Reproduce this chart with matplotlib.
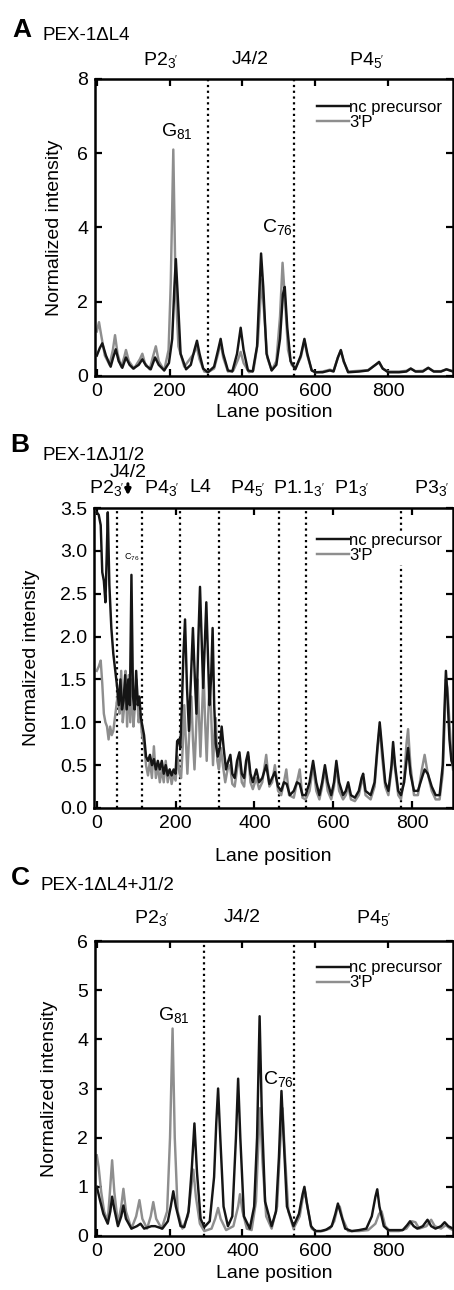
import matplotlib
matplotlib.use("Agg")
import matplotlib.pyplot as plt

plt.rcParams["font.family"] = ["Liberation Sans", "DejaVu Sans"]
plt.rcParams["mathtext.fontset"] = "custom"
plt.rcParams["mathtext.rm"] = "Liberation Sans"
plt.rcParams["mathtext.it"] = "Liberation Sans"

# ---- panel A: PEX-1dL4 ----
a_nc_x = [0, 8, 15, 25, 38, 45, 52, 60, 70, 80, 90, 100, 115, 125, 135, 148, 160, 170, 185, 198,
          207, 213, 217, 222, 230, 245, 258, 268, 275, 282, 292, 305, 322, 333, 340, 347, 360, 372,
          385, 395, 403, 415, 428, 440, 446, 451, 457, 466, 480, 493, 503, 511, 516, 523, 532, 545,
          560, 570, 578, 590, 600, 620, 640, 650, 662, 670, 678, 690, 720, 745, 765, 775, 785, 800,
          830, 850, 862, 875, 895, 910, 925, 945, 960, 978]
a_nc_y = [0.55, 0.75, 0.88, 0.55, 0.25, 0.5, 0.72, 0.4, 0.22, 0.5, 0.3, 0.2, 0.3, 0.45, 0.28, 0.18,
          0.5, 0.3, 0.15, 0.35, 1.0, 2.4, 3.15, 2.2, 0.6, 0.18, 0.3, 0.7, 0.95, 0.6, 0.2, 0.1, 0.25,
          0.7, 1.0, 0.6, 0.15, 0.12, 0.6, 1.3, 0.7, 0.15, 0.12, 0.8, 2.2, 3.3, 2.4, 0.6, 0.15, 0.3,
          1.0, 2.2, 2.4, 1.3, 0.4, 0.18, 0.55, 1.0, 0.6, 0.15, 0.1, 0.1, 0.15, 0.12, 0.5, 0.7, 0.4,
          0.1, 0.12, 0.15, 0.3, 0.38, 0.2, 0.1, 0.1, 0.12, 0.2, 0.12, 0.12, 0.22, 0.12, 0.12, 0.18, 0.12]
a_3p_x = [0, 6, 12, 22, 35, 44, 50, 57, 67, 75, 80, 88, 102, 118, 125, 132, 145, 155, 162, 170, 185,
          197, 203, 210, 216, 224, 240, 255, 266, 274, 282, 295, 305, 322, 333, 340, 347, 360, 375,
          388, 395, 403, 418, 430, 442, 449, 453, 460, 468, 480, 493, 503, 510, 517, 525, 535, 545,
          560, 570, 578, 590, 600, 620, 640, 650, 662, 670, 678, 690, 720, 745, 765, 775, 785, 800,
          830, 850, 862, 875, 895, 910, 925, 945, 960, 978]
a_3p_y = [1.2, 1.45, 1.1, 0.55, 0.3, 0.7, 1.1, 0.6, 0.25, 0.5, 0.7, 0.4, 0.2, 0.45, 0.6, 0.35, 0.18,
          0.55, 0.8, 0.4, 0.15, 0.7, 2.5, 6.1, 2.5, 0.8, 0.25, 0.45, 0.6, 0.8, 0.45, 0.12, 0.1, 0.2,
          0.6, 0.9, 0.5, 0.12, 0.15, 0.45, 0.65, 0.35, 0.1, 0.15, 0.9, 2.0, 2.6, 1.6, 0.5, 0.15, 0.4,
          1.6, 3.05, 2.0, 0.7, 0.3, 0.2, 0.5, 0.95, 0.55, 0.15, 0.1, 0.12, 0.17, 0.14, 0.5, 0.68,
          0.38, 0.12, 0.14, 0.16, 0.3, 0.36, 0.2, 0.12, 0.12, 0.14, 0.2, 0.13, 0.14, 0.22, 0.13,
          0.13, 0.18, 0.13]
a_regions = ["P2$_{3'}$", "J4/2", "P4$_{5'}$"]
a_region_x = [174, 420, 740]
a_dividers = [304, 541]

# ---- panel B: PEX-1dJ1/2 ----
b_nc_x = [0, 5, 10, 14, 18, 22, 25, 28, 32, 37, 42, 47, 52, 56, 60, 64, 68, 72, 76, 80, 84, 88, 92,
          96, 100, 104, 108, 112, 116, 120, 125, 130, 135, 140, 145, 150, 155, 160, 165, 170, 175,
          180, 185, 190, 195, 200, 204, 208, 212, 216, 220, 224, 229, 234, 238, 244, 249, 253, 258,
          262, 266, 270, 274, 278, 282, 286, 290, 294, 298, 302, 307, 312, 317, 322, 328, 334, 339,
          344, 350, 356, 362, 368, 374, 379, 384, 390, 396, 405, 412, 420, 430, 438, 445, 452, 460,
          468, 475, 482, 490, 500, 508, 515, 522, 530, 540, 549, 557, 565, 572, 579, 586, 595, 602,
          608, 615, 625, 632, 638, 645, 655, 665, 672, 676, 682, 695, 705, 712, 718, 724, 732, 740,
          748, 752, 757, 765, 772, 780, 786, 790, 796, 805, 815, 825, 832, 840, 850, 860, 870, 878,
          882, 886, 890, 895, 900, 904]
b_nc_y = [3.45, 3.42, 3.3, 2.75, 2.65, 2.4, 2.9, 3.45, 2.6, 2.1, 1.8, 1.6, 1.4, 1.2, 1.5, 1.15,
          1.25, 1.55, 1.15, 1.5, 1.2, 2.72, 1.3, 1.15, 1.6, 1.2, 1.3, 1.05, 0.95, 0.85, 0.6, 0.55,
          0.62, 0.5, 0.57, 0.45, 0.55, 0.45, 0.55, 0.4, 0.5, 0.38, 0.45, 0.38, 0.45, 0.4, 0.78, 0.8,
          0.7, 1.2, 1.8, 2.2, 1.4, 0.9, 1.4, 2.1, 1.5, 1.1, 2.0, 2.58, 2.0, 1.4, 1.9, 2.4, 1.8, 1.2,
          1.5, 2.1, 1.2, 0.75, 0.6, 0.7, 0.95, 0.7, 0.45, 0.55, 0.62, 0.4, 0.35, 0.55, 0.65, 0.4,
          0.35, 0.55, 0.65, 0.4, 0.3, 0.45, 0.3, 0.35, 0.5, 0.28, 0.35, 0.42, 0.25, 0.2, 0.3, 0.28,
          0.15, 0.2, 0.3, 0.28, 0.15, 0.15, 0.3, 0.55, 0.3, 0.15, 0.3, 0.5, 0.3, 0.15, 0.3, 0.55,
          0.3, 0.15, 0.2, 0.3, 0.15, 0.12, 0.2, 0.35, 0.4, 0.2, 0.15, 0.3, 0.7, 1.0, 0.7, 0.3, 0.2,
          0.5, 0.77, 0.5, 0.2, 0.15, 0.3, 0.55, 0.7, 0.4, 0.2, 0.2, 0.35, 0.45, 0.4, 0.25, 0.15,
          0.15, 0.5, 1.1, 1.6, 1.3, 0.8, 0.55, 0.5]
b_3p_x = [0, 5, 10, 14, 18, 22, 26, 30, 34, 38, 42, 46, 50, 54, 58, 62, 66, 70, 73, 77, 81, 85, 89,
          93, 97, 101, 106, 110, 115, 120, 125, 130, 135, 140, 145, 150, 155, 160, 165, 170, 175,
          180, 185, 190, 195, 200, 205, 210, 214, 218, 222, 226, 230, 235, 240, 244, 248, 252, 256,
          260, 263, 267, 271, 275, 279, 283, 287, 291, 295, 299, 302, 306, 310, 315, 320, 326, 332,
          338, 344, 350, 356, 362, 368, 374, 380, 385, 390, 396, 405, 412, 420, 430, 438, 445, 452,
          460, 468, 475, 481, 488, 500, 508, 515, 522, 530, 540, 549, 557, 565, 572, 579, 586, 595,
          602, 608, 615, 625, 632, 638, 645, 655, 665, 672, 676, 682, 695, 705, 712, 718, 724, 732,
          740, 748, 752, 757, 765, 772, 780, 786, 790, 796, 805, 815, 825, 832, 840, 850, 860, 870,
          878, 882, 886, 890, 895, 900, 904]
b_3p_y = [1.6, 1.65, 1.72, 1.45, 1.1, 1.0, 0.95, 0.8, 0.95, 0.85, 0.9, 1.05, 1.2, 1.35, 1.1, 1.6,
          1.0, 1.2, 1.6, 0.95, 1.55, 1.0, 1.5, 0.95, 1.2, 1.5, 1.0, 1.1, 0.85, 0.75, 0.5, 0.38, 0.55,
          0.35, 0.72, 0.35, 0.5, 0.3, 0.45, 0.3, 0.55, 0.3, 0.45, 0.28, 0.4, 0.32, 0.6, 0.4, 0.35,
          0.7, 1.2, 0.8, 0.4, 0.9, 1.3, 0.8, 0.45, 0.9, 1.5, 1.0, 0.6, 1.1, 1.6, 1.0, 0.55, 1.1, 1.55,
          1.0, 0.5, 0.9, 1.05, 0.55, 0.45, 0.7, 0.5, 0.3, 0.45, 0.5, 0.28, 0.25, 0.45, 0.6, 0.3, 0.25,
          0.55, 0.6, 0.3, 0.22, 0.35, 0.22, 0.3, 0.62, 0.25, 0.3, 0.5, 0.2, 0.15, 0.3, 0.45, 0.15,
          0.12, 0.3, 0.45, 0.12, 0.1, 0.2, 0.5, 0.2, 0.1, 0.25, 0.45, 0.2, 0.1, 0.25, 0.5, 0.2, 0.1,
          0.15, 0.25, 0.1, 0.08, 0.15, 0.3, 0.35, 0.15, 0.1, 0.25, 0.65, 0.95, 0.6, 0.25, 0.15, 0.45,
          0.7, 0.45, 0.15, 0.1, 0.35, 0.75, 0.92, 0.5, 0.15, 0.15, 0.45, 0.62, 0.4, 0.2, 0.1, 0.1,
          0.4, 0.9, 1.5, 1.4, 1.0, 0.6, 0.45]
b_regions = ["P2$_{3'}$", "P4$_{3'}$", "L4", "P4$_{5'}$", "P1.1$_{3'}$", "P1$_{3'}$", "P3$_{3'}$"]
b_region_x = [25, 164, 263, 384, 512, 646, 851]
b_dividers = [52, 114, 211, 310, 463, 530, 771]

# ---- panel C: PEX-1dL4+J1/2 ----
c_nc_x = [0, 8, 18, 30, 37, 42, 48, 58, 67, 73, 80, 95, 110, 120, 130, 150, 160, 180, 195, 203, 210,
          217, 230, 240, 252, 261, 268, 275, 285, 295, 310, 322, 328, 333, 339, 348, 360, 372, 382,
          388, 394, 404, 420, 432, 440, 447, 453, 462, 480, 492, 500, 507, 513, 522, 540, 555, 565,
          570, 576, 588, 600, 615, 630, 645, 655, 662, 670, 682, 700, 720, 740, 755, 765, 770, 776,
          788, 800, 820, 840, 852, 860, 870, 880, 895, 908, 918, 930, 945, 955, 965, 978]
c_nc_y = [1.0, 0.75, 0.45, 0.25, 0.5, 0.8, 0.55, 0.2, 0.4, 0.62, 0.35, 0.15, 0.2, 0.25, 0.15, 0.2,
          0.2, 0.15, 0.3, 0.6, 0.91, 0.6, 0.2, 0.18, 0.5, 1.4, 2.29, 1.3, 0.35, 0.18, 0.3, 1.2, 2.3,
          3.0, 2.0, 0.6, 0.2, 0.4, 2.0, 3.2, 2.0, 0.4, 0.15, 0.6, 2.0, 4.47, 2.5, 0.7, 0.2, 0.5, 1.6,
          2.95, 2.0, 0.6, 0.2, 0.45, 0.85, 1.0, 0.7, 0.2, 0.1, 0.1, 0.13, 0.2, 0.45, 0.66, 0.45,
          0.15, 0.1, 0.12, 0.15, 0.4, 0.8, 0.95, 0.6, 0.2, 0.12, 0.12, 0.12, 0.22, 0.3, 0.2, 0.15,
          0.2, 0.33, 0.2, 0.15, 0.2, 0.28, 0.2, 0.15]
c_3p_x = [0, 5, 12, 20, 30, 36, 42, 48, 58, 67, 73, 80, 95, 108, 117, 125, 138, 148, 155, 163, 178,
          193, 201, 208, 214, 222, 235, 250, 258, 265, 272, 283, 295, 315, 325, 333, 340, 355, 375,
          388, 393, 400, 412, 425, 437, 443, 448, 455, 465, 480, 495, 503, 510, 516, 526, 540, 557,
          565, 572, 578, 590, 600, 620, 640, 652, 660, 667, 675, 690, 720, 745, 765, 775, 782, 792,
          805, 830, 850, 865, 875, 885, 905, 918, 928, 945, 958, 970, 978]
c_3p_y = [1.64, 1.4, 0.9, 0.5, 0.3, 0.9, 1.54, 0.9, 0.25, 0.6, 0.96, 0.5, 0.15, 0.4, 0.73, 0.35,
          0.15, 0.4, 0.69, 0.35, 0.15, 0.5, 2.0, 4.22, 2.0, 0.5, 0.15, 0.4, 0.9, 1.35, 0.8, 0.25,
          0.1, 0.15, 0.35, 0.57, 0.35, 0.12, 0.2, 0.6, 0.85, 0.5, 0.15, 0.12, 0.7, 1.8, 2.6, 1.5,
          0.4, 0.15, 0.6, 1.8, 2.6, 1.7, 0.5, 0.15, 0.4, 0.75, 0.9, 0.6, 0.15, 0.1, 0.1, 0.15, 0.3,
          0.55, 0.6, 0.35, 0.1, 0.1, 0.12, 0.25, 0.45, 0.5, 0.2, 0.1, 0.1, 0.15, 0.3, 0.28, 0.15,
          0.2, 0.33, 0.2, 0.15, 0.22, 0.15, 0.12]
c_regions = ["P2$_{3'}$", "J4/2", "P4$_{5'}$"]
c_region_x = [151, 398, 759]
c_dividers = [294, 542]

BLACK = "#151515"
GREY = "#8e8e8e"
W, H = 454, 1290
FS = 14


def px_rect(left, top, right, bottom):
    return [left / W, 1 - bottom / H, (right - left) / W, (bottom - top) / H]


def style_axes(ax, xlim, ylim, yticks, yfmt):
    ax.set_xlim(*xlim)
    ax.set_ylim(*ylim)
    ax.set_xticks([0, 200, 400, 600, 800])
    ax.set_yticks(yticks)
    ax.set_yticklabels([yfmt.format(v) for v in yticks])
    ax.tick_params(direction="in", length=5, width=1.6, labelsize=FS, pad=5,
                   top=True, right=True)
    for s in ax.spines.values():
        s.set_linewidth(1.8)
    ax.set_xlabel("Lane position", fontsize=FS)
    ax.set_ylabel("Normalized intensity", fontsize=FS)


def draw_panel(ax, nc_x, nc_y, p_x, p_y, dividers, leg_top):
    for d in dividers:
        ax.axvline(d, color="black", linestyle=(0, (1, 1.6)), linewidth=1.6, zorder=1)
    ax.plot(p_x, p_y, color=GREY, linewidth=1.75, zorder=2, label="3'P")
    ax.plot(nc_x, nc_y, color=BLACK, linewidth=1.75, zorder=3, label="nc precursor")
    h, l = ax.get_legend_handles_labels()
    leg = ax.legend(h[::-1], l[::-1], loc="upper right", bbox_to_anchor=(0.975, leg_top),
                    fontsize=12, frameon=True, facecolor="white", edgecolor="none",
                    framealpha=1, borderpad=0.1, borderaxespad=0, handlelength=1.9,
                    handletextpad=0.05, labelspacing=0.0)
    leg.set_zorder(5)


def region_labels(ax, names, xs, y):
    for name, x in zip(names, xs):
        ax.text(x, y, name, transform=ax.get_xaxis_transform(), ha="center", va="center",
                fontsize=FS)


fig = plt.figure(figsize=(W / 100, H / 100), dpi=100)

# panel A
axA = fig.add_axes(px_rect(95, 79, 453, 376))
draw_panel(axA, a_nc_x, a_nc_y, a_3p_x, a_3p_y, a_dividers, 0.935)
style_axes(axA, (-5, 978), (0, 8), [0, 2, 4, 6, 8], "{:g}")
region_labels(axA, a_regions, a_region_x, 1.064)
axA.text(220, 6.6, "G$_{81}$", ha="center", va="center", fontsize=FS)
axA.text(495, 4.0, "C$_{76}$", ha="center", va="center", fontsize=FS)
axA.yaxis.set_label_coords(-0.089, 0.5)
axA.xaxis.set_label_coords(0.5, -0.094)
fig.text(12 / W, 1 - 30 / H, "A", fontsize=19, fontweight="bold", va="center")
fig.text(43 / W, 1 - 35 / H, "PEX-1\u0394L4", fontsize=13.5, va="center")

# panel B
axB = fig.add_axes(px_rect(94, 508, 453, 808))
draw_panel(axB, b_nc_x, b_nc_y, b_3p_x, b_3p_y, b_dividers, 0.922)
style_axes(axB, (-7, 904), (0, 3.5), [0, 0.5, 1, 1.5, 2, 2.5, 3, 3.5], "{:.1f}")
region_labels(axB, b_regions, b_region_x, 1.067)
axB.text(80, 1.117, "J4/2", transform=axB.get_xaxis_transform(), ha="center", va="center",
         fontsize=FS)
axB.annotate("", xy=(79, 1.033), xytext=(79, 1.09), xycoords=axB.get_xaxis_transform(),
             textcoords=axB.get_xaxis_transform(),
             arrowprops=dict(arrowstyle="-|>", color="black", lw=2.2, mutation_scale=8))
axB.text(89, 2.92, "C$_{76}$", ha="center", va="center", fontsize=6.5)
axB.yaxis.set_label_coords(-0.150, 0.5)
axB.xaxis.set_label_coords(0.5, -0.133)
fig.text(10 / W, 1 - 445 / H, "B", fontsize=19, fontweight="bold", va="center")
fig.text(43 / W, 1 - 455 / H, "PEX-1\u0394J1/2", fontsize=13.5, va="center")

# panel C
axC = fig.add_axes(px_rect(95, 941, 453, 1236))
draw_panel(axC, c_nc_x, c_nc_y, c_3p_x, c_3p_y, c_dividers, 0.94)
style_axes(axC, (-5, 978), (0, 6), [0, 1, 2, 3, 4, 5, 6], "{:g}")
region_labels(axC, c_regions, c_region_x, 1.078)
axC.text(212, 4.5, "G$_{81}$", ha="center", va="center", fontsize=FS)
axC.text(498, 3.2, "C$_{76}$", ha="center", va="center", fontsize=FS)
axC.yaxis.set_label_coords(-0.103, 0.5)
axC.xaxis.set_label_coords(0.5, -0.098)
fig.text(11 / W, 1 - 878 / H, "C", fontsize=19, fontweight="bold", va="center")
fig.text(40 / W, 1 - 885 / H, "PEX-1\u0394L4+J1/2", fontsize=13.5, va="center")

fig.savefig("out.png", dpi=100)
